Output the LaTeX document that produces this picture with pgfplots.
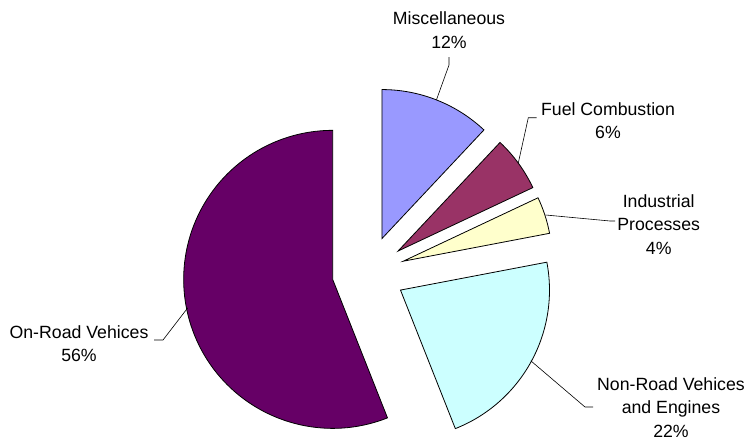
\documentclass[border=0pt]{standalone}
\usepackage{pgfplots}
\pgfplotsset{compat=1.18}
\usepackage{fontspec}
\setmainfont{Liberation Sans}
\definecolor{cmisc}{HTML}{9999FF}
\definecolor{cfuel}{HTML}{993366}
\definecolor{cind}{HTML}{FFFFCC}
\definecolor{cnon}{HTML}{CCFFFF}
\definecolor{con}{HTML}{660066}
% #1 cumulative start (%), #2 share (%), #3 colour
\newcommand\slice[3]{%
  \filldraw[fill=#3, draw=black, line width=0.8pt, line join=miter]
    ([shift={({90-3.6*(#1+#2/2)}:36.5pt)}]axis cs:368.5,167.5) -- ++({90-3.6*#1}:149pt)
    arc[start angle={90-3.6*#1}, end angle={90-3.6*(#1+#2)}, radius=149pt] -- cycle;
}
\begin{document}
\begin{tikzpicture}
\begin{axis}[
  width=749pt, height=440pt, scale only axis,
  xmin=0, xmax=749, ymin=0, ymax=440,
  hide axis, clip=false,
]
% shares: Miscellaneous 12, Fuel Combustion 6, Industrial Processes 4, Non-Road 22, On-Road 56
\slice{0}{12}{cmisc}
\slice{12}{6}{cfuel}
\slice{18}{4}{cind}
\slice{22}{22}{cnon}
\slice{44}{56}{con}
% leader lines
\draw[line width=0.6pt] (axis cs:449,383) -- (axis cs:449,375) -- (axis cs:436.5,340.3);
\draw[line width=0.6pt] (axis cs:536.7,322.3) -- (axis cs:528.3,322.3) -- (axis cs:518.2,276.6);
\draw[line width=0.6pt] (axis cs:545.7,225) -- (axis cs:610,219) -- (axis cs:615,219);
\draw[line width=0.6pt] (axis cs:593,33) -- (axis cs:585,33) -- (axis cs:530.8,79.2);
\draw[line width=0.6pt] (axis cs:154,100) -- (axis cs:163,100) -- (axis cs:187.7,132.1);
% labels
\tikzset{lab/.style={align=center, inner sep=0pt, font=\fontsize{17.7}{23.3}\selectfont}}
\node[lab] at (axis cs:449,410) {Miscellaneous\\12\%};
\node[lab] at (axis cs:608,319.5) {Fuel Combustion\\6\%};
\node[lab] at (axis cs:658.7,215.5) {Industrial\\Processes\\4\%};
\node[lab] at (axis cs:671,32.5) {Non-Road Vehices\\and Engines\\22\%};
\node[lab] at (axis cs:79,96.5) {On-Road Vehices\\56\%};
\end{axis}
\pgfresetboundingbox
\path[use as bounding box] (current axis.south west) rectangle (current axis.north east);
\end{tikzpicture}
\end{document}
